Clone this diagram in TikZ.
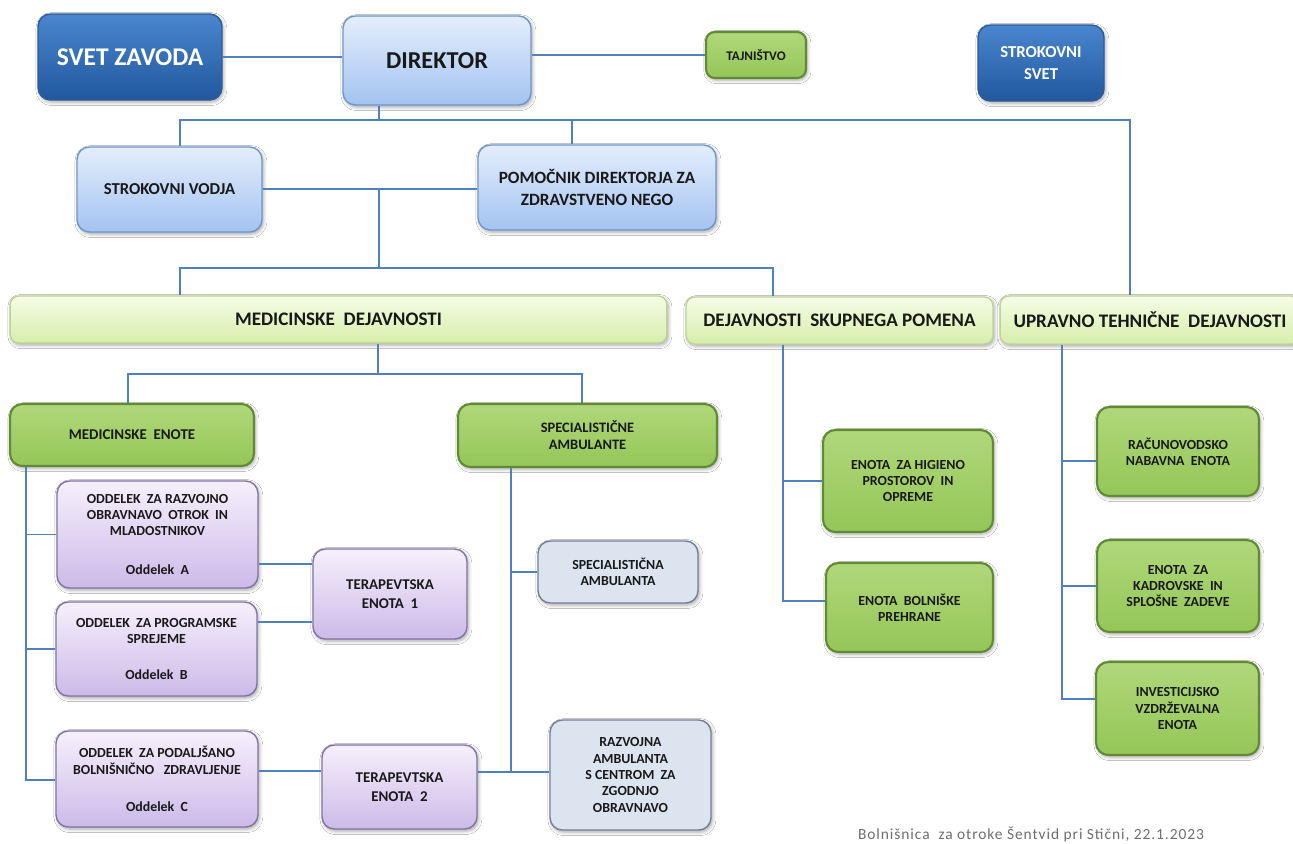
\documentclass[tikz,border=0pt]{standalone}
\usepackage{fontspec}
\setmainfont{Carlito}
\usetikzlibrary{shadows.blur}
\definecolor{dbt}{RGB}{74,134,206}
\definecolor{dbb}{RGB}{33,88,158}
\definecolor{dbd}{RGB}{46,90,150}
\definecolor{lbt}{RGB}{228,238,252}
\definecolor{lbb}{RGB}{163,195,240}
\definecolor{lbd}{RGB}{110,150,205}
\definecolor{gt}{RGB}{176,216,122}
\definecolor{gb}{RGB}{148,198,88}
\definecolor{gd}{RGB}{98,138,52}
\definecolor{lgt}{RGB}{246,252,230}
\definecolor{lgb}{RGB}{214,238,170}
\definecolor{lgd}{RGB}{190,212,150}
\definecolor{pt}{RGB}{246,240,252}
\definecolor{pb}{RGB}{204,186,232}
\definecolor{pd}{RGB}{130,115,165}
\definecolor{gf}{RGB}{220,228,240}
\definecolor{gdr}{RGB}{120,125,150}
\definecolor{lc}{RGB}{79,129,189}
\definecolor{footgray}{RGB}{110,110,110}
\begin{document}
\begin{tikzpicture}[x=0.02cm,y=-0.02cm,
  box/.style={rounded corners=7pt, inner sep=1pt, align=center, text=black!90,
    line width=0.8pt,
    blur shadow={shadow xshift=0.8pt, shadow yshift=-1.2pt, shadow blur radius=2pt, shadow opacity=35}},
  bxdblue/.style={box, top color=dbt, bottom color=dbb, draw=dbd, text=white},
  bxlblue/.style={box, top color=lbt, bottom color=lbb, draw=lbd},
  bxgreen/.style={box, top color=gt, bottom color=gb, draw=gd, line width=1.2pt},
  bxlgreen/.style={box, top color=lgt, bottom color=lgb, draw=lgd, rounded corners=5pt},
  bxpurple/.style={box, top color=pt, bottom color=pb, draw=pd},
  bxgray/.style={box, fill=gf, draw=gdr},
  conn/.style={draw=lc, line width=0.9pt},
  fhead/.style={font=\bfseries\fontsize{10.9}{12}\selectfont},
  fsmall/.style={font=\bfseries\fontsize{7.9}{9.3}\selectfont},
  fmid/.style={font=\bfseries\fontsize{8.5}{10.5}\selectfont}
]
\useasboundingbox (0,0) rectangle (1293,843);
\clip (0,0) rectangle (1293,843);
\fill[white] (0,0) rectangle (1293,843);

% top level
\node[bxdblue, minimum width=3.68cm, minimum height=1.72cm, font=\bfseries\fontsize{14.5}{16}\selectfont] (svet) at (130,57) {SVET ZAVODA};
\node[bxlblue, minimum width=3.76cm, minimum height=1.78cm, font=\bfseries\fontsize{13.8}{16}\selectfont] (dir) at (437,60.5) {DIREKTOR};
\node[bxgreen, minimum width=2.0cm, minimum height=0.92cm, rounded corners=5pt, font=\bfseries\fontsize{7.5}{9}\selectfont] (taj) at (756,55) {TAJNIŠTVO};
\node[bxdblue, minimum width=2.52cm, minimum height=1.52cm, font=\bfseries\fontsize{9.5}{13}\selectfont] (ssvet) at (1041,63) {STROKOVNI\\SVET};

\node[bxlblue, minimum width=3.7cm, minimum height=1.7cm, font=\bfseries\fontsize{9.5}{13}\selectfont] (svod) at (169.5,189.5) {STROKOVNI VODJA};
\node[bxlblue, minimum width=4.76cm, minimum height=1.7cm, font=\bfseries\fontsize{9.8}{13}\selectfont] (pom) at (597,187.5) {POMOČNIK DIREKTORJA ZA\\ZDRAVSTVENO NEGO};

\node[bxlgreen, fhead, minimum width=13.14cm, minimum height=0.94cm] (medd) at (338.5,319.5) {MEDICINSKE\ \ DEJAVNOSTI};
\node[bxlgreen, fhead, minimum width=6.14cm, minimum height=0.94cm] (dsp) at (839.5,320.5) {DEJAVNOSTI\ \ SKUPNEGA POMENA};
\node[bxlgreen, fhead, minimum width=6.0cm, minimum height=0.96cm] (utd) at (1150,320) {UPRAVNO TEHNIČNE\ \ DEJAVNOSTI};

% medicinske
\node[bxgreen, minimum width=4.88cm, minimum height=1.24cm, font=\bfseries\fontsize{8.5}{10}\selectfont] (mede) at (132,435) {MEDICINSKE\ \ ENOTE};
\node[bxgreen, minimum width=5.18cm, minimum height=1.26cm, font=\bfseries\fontsize{8.2}{9.6}\selectfont] (spa) at (587.5,435.5) {SPECIALISTIČNE\\AMBULANTE};

\node[bxpurple, fsmall, minimum width=4.02cm, minimum height=2.14cm] (oa) at (157.5,534.5) {ODDELEK\ \ ZA RAZVOJNO\\OBRAVNAVO\ \ OTROK\ \ IN\\MLADOSTNIKOV\\[13pt]Oddelek\ \ A};
\node[bxpurple, fsmall, minimum width=4.02cm, minimum height=1.88cm] (ob) at (156.5,649) {ODDELEK\ \ ZA PROGRAMSKE\\SPREJEME\\[11.4pt]Oddelek\ \ B};
\node[bxpurple, fsmall, minimum width=4.04cm, minimum height=1.92cm] (oc) at (157,779) {ODDELEK\ \ ZA PODALJŠANO\\BOLNIŠNIČNO\ \ \ ZDRAVLJENJE\\[12pt]Oddelek\ \ C};
\node[bxpurple, fmid, minimum width=3.08cm, minimum height=1.8cm] (te1) at (390,594) {TERAPEVTSKA\\ENOTA\ \ 1};
\node[bxpurple, fmid, minimum width=3.1cm, minimum height=1.68cm] (te2) at (399.5,787) {TERAPEVTSKA\\ENOTA\ \ 2};
\node[bxgray, fsmall, minimum width=3.2cm, minimum height=1.24cm] (sa) at (618,572) {SPECIALISTIČNA\\AMBULANTA};
\node[bxgray, fsmall, minimum width=3.22cm, minimum height=2.2cm] (ra) at (630.5,775) {RAZVOJNA\\AMBULANTA\\S CENTROM\ \ ZA\\ZGODNJO\\OBRAVNAVO};

% skupni pomen
\node[bxgreen, fsmall, minimum width=3.4cm, minimum height=2.04cm] (hig) at (908,481) {ENOTA\ \ ZA HIGIENO\\PROSTOROV\ \ IN\\OPREME};
\node[bxgreen, fsmall, minimum width=3.34cm, minimum height=1.78cm] (bp) at (909.5,607.5) {ENOTA\ \ BOLNIŠKE\\PREHRANE};

% upravno tehnicne
\node[bxgreen, fsmall, minimum width=3.24cm, minimum height=1.78cm] (rac) at (1178,451.5) {RAČUNOVODSKO\\NABAVNA\ \ ENOTA};
\node[bxgreen, fsmall, minimum width=3.24cm, minimum height=1.84cm] (kad) at (1178,586) {ENOTA\ \ ZA\\KADROVSKE\ \ IN\\SPLOŠNE\ \ ZADEVE};
\node[bxgreen, fsmall, minimum width=3.26cm, minimum height=1.86cm] (inv) at (1177.5,708.5) {INVESTICIJSKO\\VZDRŽEVALNA\\ENOTA};

\node[font=\addfontfeatures{LetterSpace=6}\fontsize{8.8}{10}\selectfont, text=footgray] (foot) at (1031,834) {Bolnišnica\ \ za otroke Šentvid pri Stični, 22.1.2023};

% connectors
\coordinate (b1l) at (180,120);
\coordinate (b1m) at (379,120);
\coordinate (b1p) at (572,120);
\coordinate (b1r) at (1130,120);
\draw[conn] (svet.east) -- (svet.east -| dir.west);
\draw[conn] (taj.west) -- (taj.west -| dir.east);
\draw[conn] (b1m |- dir.south) -- (b1m);
\draw[conn] (svod.north -| b1l) -- (b1l) -- (b1r) -- (b1r |- utd.north);
\draw[conn] (b1p) -- (b1p |- pom.north);
\coordinate (ysp) at (0,189);
\draw[conn] (svod.east |- ysp) -- (pom.west |- ysp);

\coordinate (b2l) at (180,268);
\coordinate (b2m) at (379,268);
\coordinate (b2r) at (773,268);
\draw[conn] (b2m |- ysp) -- (b2m);
\draw[conn] (medd.north -| b2l) -- (b2l) -- (b2r) -- (b2r |- dsp.north);

\coordinate (b3l) at (128,374);
\coordinate (b3m) at (378,374);
\coordinate (b3r) at (582,374);
\draw[conn] (b3m |- medd.south) -- (b3m);
\draw[conn] (mede.north -| b3l) -- (b3l) -- (b3r) -- (b3r |- spa.north);

\coordinate (tA) at (26,780);
\draw[conn] (tA |- mede.south) -- (tA) -- (tA -| oc.west);
\draw[conn] (tA |- oa.west) -- (oa.west);
\draw[conn] (tA |- ob.west) -- (ob.west);

\coordinate (ya) at (0,564);
\coordinate (yb) at (0,622);
\coordinate (yc) at (0,771);
\draw[conn] (oa.east |- ya) -- (te1.west |- ya);
\draw[conn] (ob.east |- yb) -- (te1.west |- yb);
\draw[conn] (oc.east |- yc) -- (te2.west |- yc);

\coordinate (tS) at (511,772);
\draw[conn] (tS |- spa.south) -- (tS);
\draw[conn] (te2.east |- tS) -- (ra.west |- tS);
\draw[conn] (tS |- sa.west) -- (sa.west);

\coordinate (tD) at (783,601);
\draw[conn] (tD |- dsp.south) -- (tD) -- (tD -| bp.west);
\draw[conn] (tD |- hig.west) -- (hig.west);

\coordinate (tU) at (1062,699);
\coordinate (yr) at (0,461);
\draw[conn] (tU |- utd.south) -- (tU) -- (tU -| inv.west);
\draw[conn] (tU |- yr) -- (rac.west |- yr);
\draw[conn] (tU |- kad.west) -- (kad.west);
\end{tikzpicture}
\end{document}
